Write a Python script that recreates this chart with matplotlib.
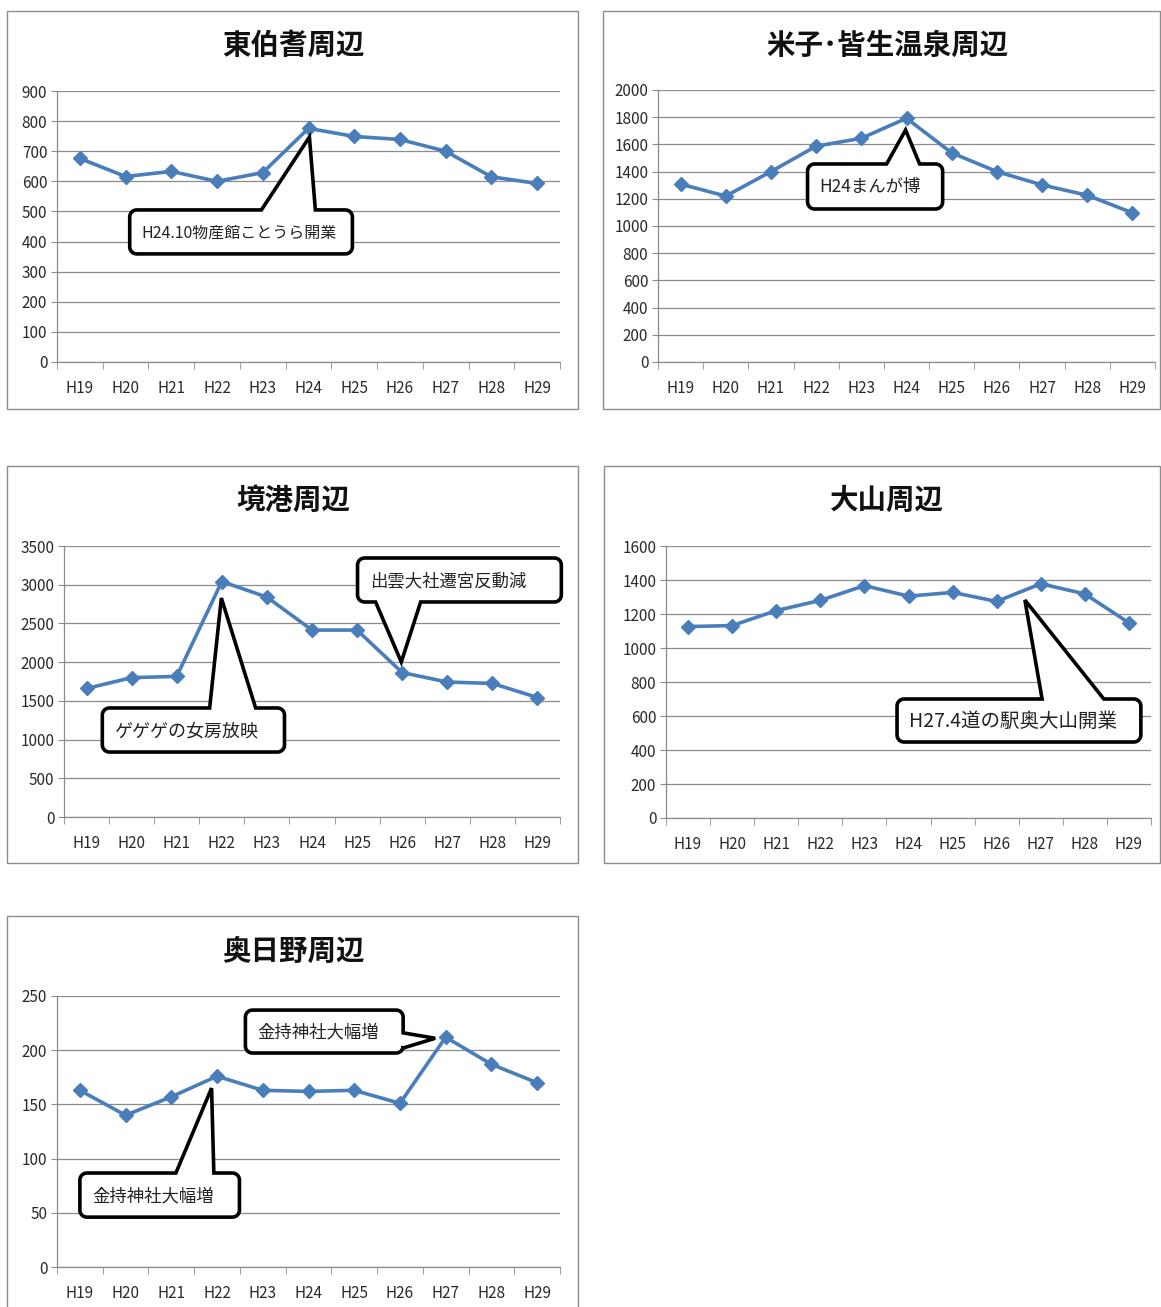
import matplotlib
matplotlib.use('Agg')
import matplotlib.pyplot as plt
import numpy as np
from matplotlib.patches import Polygon, Rectangle

plt.rcParams['font.family'] = ['Noto Sans CJK JP', 'DejaVu Sans']

# データ（年度別）
years = ['H19', 'H20', 'H21', 'H22', 'H23', 'H24', 'H25', 'H26', 'H27', 'H28', 'H29']
tohaku = [676, 616, 633, 600, 629, 776, 749, 739, 700, 615, 593]
yonago = [1308, 1220, 1400, 1587, 1645, 1792, 1538, 1400, 1302, 1226, 1097]
sakai = [1660, 1800, 1816, 3041, 2840, 2414, 2414, 1865, 1743, 1725, 1543]
daisen = [1126, 1132, 1220, 1280, 1367, 1305, 1327, 1274, 1378, 1318, 1148]
okuhino = [163, 140, 157, 176, 163, 162, 163, 151, 212, 187, 170]

W, H = 1161, 1307
fig = plt.figure(figsize=(W / 100, H / 100), dpi=100)
fig.patch.set_facecolor('white')

LINE = '#4A7EBB'
GRID = '#8C8C8C'


def px_rect(x0, y0, x1, y1):
    # ピクセル座標 -> figure 座標
    return [x0 / W, 1 - y1 / H, (x1 - x0) / W, (y1 - y0) / H]


def panel(frame, axpos, title, title_xy, values, ymax, ystep):
    fx0, fy0, fx1, fy1 = frame
    fig.add_artist(Rectangle((fx0 / W, 1 - fy1 / H), (fx1 - fx0) / W, (fy1 - fy0) / H,
                             transform=fig.transFigure, fill=False,
                             edgecolor=GRID, lw=1.0, zorder=0))
    fig.text(title_xy[0] / W, 1 - title_xy[1] / H, title, ha='center', va='center',
             fontsize=20.5, fontweight='bold', color='#111111')
    ax = fig.add_axes(px_rect(*axpos))
    x = np.arange(len(years))
    ax.plot(x, values, color=LINE, lw=2.6, marker='D', markersize=7.5,
            markerfacecolor=LINE, markeredgecolor=LINE, zorder=3, clip_on=False)
    ax.set_xlim(-0.5, len(years) - 0.5)
    ax.set_ylim(0, ymax)
    ax.set_yticks(np.arange(0, ymax + 1, ystep))
    ax.set_xticks(x)
    ax.set_xticklabels(years)
    ax.set_xticks(np.arange(-0.5, len(years), 1), minor=True)
    ax.tick_params(axis='x', which='major', length=0, pad=13, labelsize=11, labelcolor='#2a2a2a')
    ax.tick_params(axis='x', which='minor', length=5, color=GRID, direction='out')
    ax.tick_params(axis='y', length=4, color=GRID, pad=3, labelsize=11, labelcolor='#2a2a2a')
    ax.yaxis.grid(True, color=GRID, lw=0.9)
    ax.set_axisbelow(True)
    for s in ['top', 'right']:
        ax.spines[s].set_visible(False)
    for s in ['left', 'bottom']:
        ax.spines[s].set_color(GRID)
        ax.spines[s].set_linewidth(0.9)
    return ax


def callout(ax, box, tip, side, base, text, size=12.5, r=7):
    # 吹き出し（角丸四角＋くさび）をピクセル空間で作図
    T = ax.transData
    (X0, Y0), (X1, Y1) = T.transform([(box[0], box[2]), (box[1], box[3])])
    L, R = min(X0, X1), max(X0, X1)
    B, Tp = min(Y0, Y1), max(Y0, Y1)
    tx, ty = T.transform([tip])[0]
    if side in ('top', 'bottom'):
        b = sorted(T.transform([(base[0], 0), (base[1], 0)])[:, 0])
    else:
        b = sorted(T.transform([(0, base[0]), (0, base[1])])[:, 1])

    def arc(cx, cy, a0, a1):
        t = np.radians(np.linspace(a0, a1, 8))
        return list(zip(cx + r * np.cos(t), cy + r * np.sin(t)))

    pts = [(L + r, B)]
    if side == 'bottom':
        pts += [(b[0], B), (tx, ty), (b[1], B)]
    pts += [(R - r, B)]
    pts += arc(R - r, B + r, -90, 0)
    if side == 'right':
        pts += [(R, b[0]), (tx, ty), (R, b[1])]
    pts += arc(R - r, Tp - r, 0, 90)
    if side == 'top':
        pts += [(b[1], Tp), (tx, ty), (b[0], Tp)]
    pts += arc(L + r, Tp - r, 90, 180)
    pts += arc(L + r, B + r, 180, 270)
    fpts = fig.transFigure.inverted().transform(pts)
    fig.add_artist(Polygon(fpts, closed=True, transform=fig.transFigure,
                           facecolor='white', edgecolor='black', lw=2.6,
                           joinstyle='miter', zorder=5))
    fx, fy = fig.transFigure.inverted().transform([(L + 12, (B + Tp) / 2 - 1)])[0]
    fig.text(fx, fy, text, ha='left', va='center', fontsize=size,
             color='#222222', zorder=6)


ax1 = panel((7, 11, 578, 409), (57, 91, 560, 362), '東伯耆周辺', (293, 46), tohaku, 900, 100)
ax2 = panel((603, 11, 1160, 409), (658, 90, 1155, 362), '米子･皆生温泉周辺', (887, 46), yonago, 2000, 200)
ax3 = panel((7, 466, 578, 863), (64, 546, 560, 817), '境港周辺', (293, 501), sakai, 3500, 500)
ax4 = panel((604, 466, 1160, 863), (666, 546, 1151, 818), '大山周辺', (887, 501), daisen, 1600, 200)
ax5 = panel((7, 916, 578, 1320), (57, 996, 560, 1267), '奥日野周辺', (293, 952), okuhino, 250, 50)

callout(ax1, (1.09, 5.96, 359, 505), (5.02, 747), 'top', (3.97, 5.15), 'H24.10物産館ことうら開業', 11.5)
callout(ax2, (2.81, 5.80, 1125, 1456), (4.98, 1706), 'top', (4.56, 5.29), 'H24まんが博', 12.5)
callout(ax3, (0.35, 4.39, 839, 1408), (2.99, 2828), 'top', (2.73, 3.75), 'ゲゲゲの女房放映', 13)
callout(ax3, (6.01, 10.53, 2777, 3345), (6.98, 2002), 'bottom', (6.41, 7.41), '出雲大社遷宮反動減', 12.5)
callout(ax4, (4.74, 10.27, 447, 700), (7.64, 1282), 'top', (8.03, 9.43), 'H27.4道の駅奥大山開業', 14)
callout(ax5, (0.0, 3.49, 46, 86.7), (2.88, 165), 'top', (2.10, 2.93), '金持神社大幅増', 12.5)
callout(ax5, (3.62, 7.07, 197.4, 237), (7.77, 211), 'right', (202, 216), '金持神社大幅増', 12.5)

fig.savefig('out.png', dpi=100, facecolor='white')
